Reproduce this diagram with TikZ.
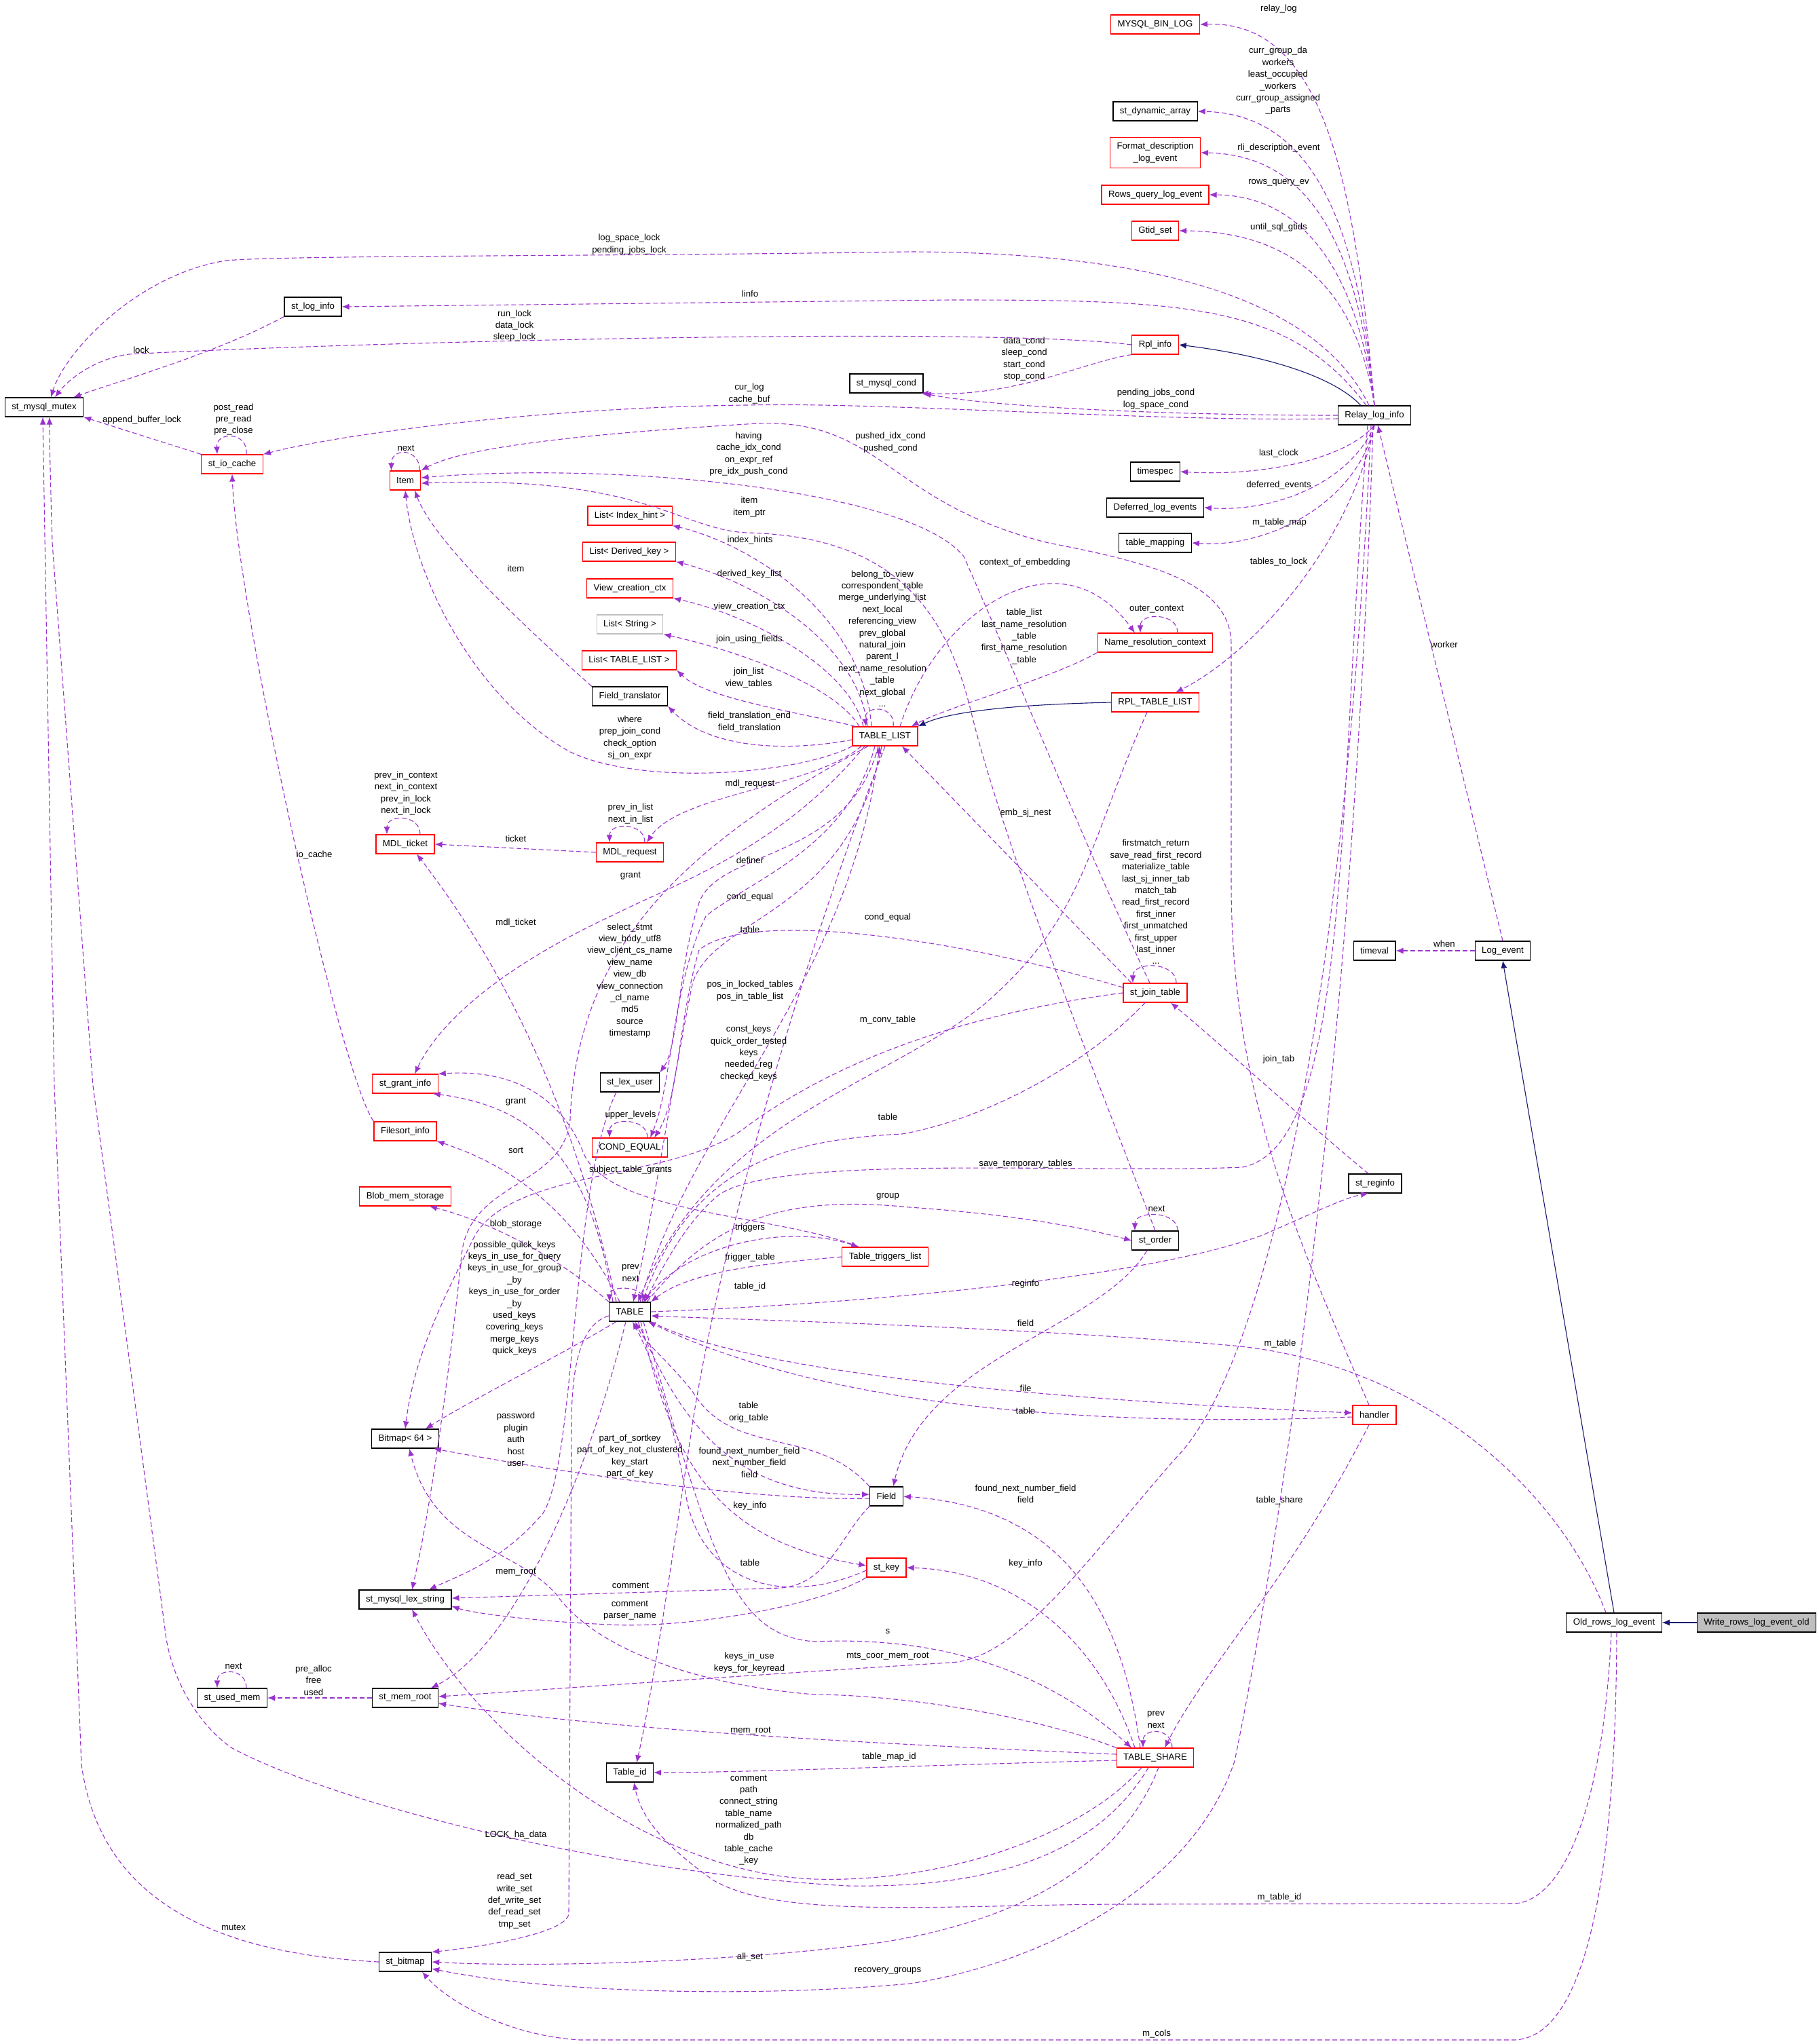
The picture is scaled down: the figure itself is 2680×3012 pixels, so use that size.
\documentclass[tikz,border=0pt]{standalone}
\usepackage{fontspec}
\setmainfont{Liberation Sans}
\usepackage{xcolor}
\usepackage{tikz}
\usetikzlibrary{arrows.meta}

\definecolor{membc}{HTML}{9A32CD}
\definecolor{isac}{HTML}{191970}
\definecolor{greyline}{HTML}{BFBFBF}
\newcommand{\graphfont}{\fontsize{13.2}{17.4}\selectfont}

\begin{document}
\begin{tikzpicture}[>={Latex[length=11pt,width=9pt]}, x=1pt, y=-1pt,
    cls/.style={draw=black, fill=white, line width=1.2pt, inner xsep=10pt, inner ysep=3pt, minimum height=28pt, font=\graphfont},
    trunc/.style={cls, draw=red},
    memb/.style={draw=membc, line width=1.1pt, dash pattern=on 7pt off 4pt, ->},
    isa/.style={draw=isac, line width=1.1pt, ->},
    lbl/.style={font=\graphfont, align=center, inner sep=0pt}]
    \useasboundingbox (0,0) rectangle (2680,3012);

    % Các lớp
    \node[trunc] (binlog) at (1702,36) {MYSQL\_BIN\_LOG};
    \node[cls] (dynarr) at (1702,164) {st\_dynamic\_array};
    \node[trunc, align=center, minimum height=45pt] (fmtdesc) at (1702,225) {Format\_description\\\_log\_event};
    \node[trunc] (rowsq) at (1702,287) {Rows\_query\_log\_event};
    \node[trunc] (gtid) at (1702,340) {Gtid\_set};
    \node[cls] (loginfo) at (461,452) {st\_log\_info};
    \node[trunc] (rplinfo) at (1702,508) {Rpl\_info};
    \node[cls] (mysqlcond) at (1306,565) {st\_mysql\_cond};
    \node[cls] (mutex) at (65,600) {st\_mysql\_mutex};
    \node[cls] (relay) at (2025,612) {Relay\_log\_info};
    \node[trunc] (iocache) at (342,684) {st\_io\_cache};
    \node[cls] (timespec) at (1702,695) {timespec};
    \node[trunc] (item) at (597,708) {Item};
    \node[cls] (deferred) at (1702,748) {Deferred\_log\_events};
    \node[trunc] (idxhint) at (928,760) {List< Index\_hint >};
    \node[cls] (tmap) at (1702,800) {table\_mapping};
    \node[trunc] (derkey) at (927,813) {List< Derived\_key >};
    \node[trunc] (viewctx) at (928,867) {View\_creation\_ctx};
    \node[cls, draw=greyline] (liststr) at (928,920) {List< String >};
    \node[trunc] (namectx) at (1702,947) {Name\_resolution\_context};
    \node[trunc] (listtl) at (927,973) {List< TABLE\_LIST >};
    \node[cls] (fieldtr) at (928,1026) {Field\_translator};
    \node[trunc] (rpltl) at (1702,1035) {RPL\_TABLE\_LIST};
    \node[trunc] (tablelist) at (1304,1085) {TABLE\_LIST};
    \node[trunc] (mdlticket) at (597,1244) {MDL\_ticket};
    \node[trunc] (mdlreq) at (928,1256) {MDL\_request};
    \node[cls] (timeval) at (2025,1401) {timeval};
    \node[cls] (logevent) at (2214,1401) {Log\_event};
    \node[trunc] (jointab) at (1702,1463) {st\_join\_table};
    \node[cls] (lexuser) at (928,1595) {st\_lex\_user};
    \node[trunc] (grant) at (597,1597) {st\_grant\_info};
    \node[trunc] (filesort) at (597,1667) {Filesort\_info};
    \node[trunc] (condeq) at (928,1691) {COND\_EQUAL};
    \node[cls] (reginfo) at (2026,1744) {st\_reginfo};
    \node[trunc] (blob) at (597,1763) {Blob\_mem\_storage};
    \node[cls] (order) at (1702,1828) {st\_order};
    \node[trunc] (trig) at (1304,1852) {Table\_triggers\_list};
    \node[cls] (table) at (928,1933) {TABLE};
    \node[trunc] (handler) at (2025,2085) {handler};
    \node[cls] (bitmap64) at (597,2120) {Bitmap< 64 >};
    \node[cls] (field) at (1306,2205) {Field};
    \node[trunc] (stkey) at (1306,2310) {st\_key};
    \node[cls] (lexstr) at (597,2357) {st\_mysql\_lex\_string};
    \node[cls] (oldrows) at (2378,2391) {Old\_rows\_log\_event};
    \node[cls, fill=greyline] (writerows) at (2588,2391) {Write\_rows\_log\_event\_old};
    \node[cls] (usedmem) at (342,2502) {st\_used\_mem};
    \node[cls] (memroot) at (597,2502) {st\_mem\_root};
    \node[trunc] (tshare) at (1702,2590) {TABLE\_SHARE};
    \node[cls] (tableid) at (928,2612) {Table\_id};
    \node[cls] (bitmap) at (597,2891) {st\_bitmap};

    % Kế thừa
    \draw[isa] ([xshift=-20pt]relay.north) .. controls (1960,550) and (1850,522) .. (rplinfo.east);
    \draw[isa] (rpltl.west) .. controls (1500,1038) and (1400,1048) .. (tablelist.north east);
    \draw[isa] (oldrows.north) -- (logevent.south);
    \draw[isa] (writerows.west) -- (oldrows.east);

    % Relay_log_info
    \draw[memb] (relay.north) .. controls (1995,250) and (1945,30) .. (binlog.east);
    \draw[memb] (relay.north) .. controls (2000,320) and (1930,168) .. (dynarr.east);
    \draw[memb] (relay.north) .. controls (2000,360) and (1930,228) .. (fmtdesc.east);
    \draw[memb] (relay.north) .. controls (2000,400) and (1920,288) .. (rowsq.east);
    \draw[memb] (relay.north) .. controls (2000,440) and (1920,342) .. (gtid.east);
    \draw[memb] ([xshift=-8pt]relay.north) .. controls (1950,460) and (1750,372) .. (1340,371) .. controls (900,378) and (420,376) .. (333,384) .. controls (200,405) and (95,520) .. ([xshift=10pt]mutex.north);
    \draw[memb] ([xshift=-12pt]relay.north) .. controls (1900,448) and (1750,442) .. (1400,442) -- (loginfo.east);
    \draw[memb] (relay.west) .. controls (1700,612) and (1450,598) .. (mysqlcond.south east);
    \draw[memb] ([yshift=-5pt]relay.west) .. controls (1700,622) and (1300,592) .. (1100,597) .. controls (800,600) and (500,640) .. (iocache.north east);
    \draw[memb] (relay.south) .. controls (1980,680) and (1850,702) .. (timespec.east);
    \draw[memb] (relay.south) .. controls (1990,710) and (1880,755) .. (deferred.east);
    \draw[memb] (relay.south) .. controls (2000,740) and (1870,808) .. (tmap.east);
    \draw[memb] (relay.south) .. controls (1990,800) and (1850,960) .. ([xshift=-35pt]rpltl.north east);
    \draw[memb] ([xshift=-10pt]relay.south) .. controls (1970,1200) and (1990,1690) .. (1830,1720) .. controls (1600,1730) and (1150,1700) .. (1060,1760) .. controls (1010,1800) and (975,1870) .. ([xshift=22pt]table.north);
    \draw[memb] ([xshift=-5pt]relay.south) .. controls (1985,1400) and (1880,2000) .. (1731,2150) .. controls (1600,2300) and (1500,2445) .. (1400,2450) .. controls (1200,2462) and (800,2490) .. ([yshift=2pt]memroot.east);
    \draw[memb] ([xshift=-2pt]relay.south) .. controls (1995,1500) and (1900,2200) .. (1819,2595) .. controls (1750,2800) and (1500,2900) .. (1340,2923) .. controls (1100,2945) and (800,2935) .. ([yshift=-10pt]bitmap.east);
    \draw[memb] (logevent.north) -- ([xshift=5pt]relay.south);
    \draw[memb] (logevent.west) -- (timeval.east);

    % Old_rows_log_event
    \draw[memb] ([xshift=-12pt]oldrows.north) .. controls (2300,2200) and (2100,2010) .. (1818,1983) .. controls (1500,1955) and (1100,1945) .. ([yshift=-6pt]table.east);
    \draw[memb] ([xshift=-4pt]oldrows.south) .. controls (2360,2700) and (2290,2805) .. (2229,2805) -- (1665,2806) .. controls (1400,2806) and (1150,2830) .. (1050,2770) .. controls (980,2720) and (945,2680) .. ([xshift=6pt]tableid.south);
    \draw[memb] ([xshift=4pt]oldrows.south) .. controls (2380,2900) and (2300,3006) .. (2229,3006) -- (855,3006) .. controls (750,3000) and (660,2950) .. ([xshift=25pt]bitmap.south);

    % Rpl_info, st_log_info, st_io_cache, Item
    \draw[memb] (rplinfo.west) .. controls (1450,480) and (500,505) .. (190,522) .. controls (140,528) and (100,560) .. ([xshift=16pt]mutex.north);
    \draw[memb] (rplinfo.south west) .. controls (1590,535) and (1500,585) .. ([xshift=-4pt]mysqlcond.south east);
    \draw[memb] (loginfo.south west) .. controls (320,520) and (180,560) .. ([xshift=-15pt]mutex.north east);
    \draw[memb] (iocache.north west) -- (mutex.south east);
    \draw[memb] ([xshift=21pt]iocache.north) .. controls +(3,-34) and +(-2,-34) .. ([xshift=-22pt]iocache.north);
    \draw[memb] (filesort.north west) .. controls (500,1580) and (350,900) .. (iocache.south);
    \draw[memb] ([xshift=-2pt]item.north east) .. controls +(0,-34) and +(0,-34) .. ([xshift=3pt]item.north west);
    \draw[memb] (fieldtr.north west) .. controls (780,930) and (640,800) .. ([xshift=14pt]item.south);
    \draw[memb] (bitmap.west) .. controls (350,2880) and (150,2820) .. (120,2600) -- (80,1600) -- ([xshift=-2pt]mutex.south);

    % TABLE_LIST
    \draw[memb] (tablelist.south west) .. controls (1180,1140) and (950,1160) .. (840,1108) .. controls (700,1030) and (610,850) .. (item.south);
    \draw[memb] ([xshift=-20pt]tablelist.north) .. controls (1270,900) and (1100,800) .. (idxhint.south east);
    \draw[memb] ([xshift=-26pt]tablelist.north) .. controls (1265,950) and (1120,860) .. (derkey.south east);
    \draw[memb] ([xshift=-32pt]tablelist.north) .. controls (1250,980) and (1100,905) .. (viewctx.south east);
    \draw[memb] ([xshift=-38pt]tablelist.north) .. controls (1230,1010) and (1090,960) .. (liststr.south east);
    \draw[memb] ([xshift=-44pt]tablelist.north) .. controls (1180,1050) and (1040,1030) .. (listtl.south east);
    \draw[memb] ([yshift=-5pt]tablelist.west) .. controls (1150,1110) and (1040,1100) .. (fieldtr.south east);
    \draw[memb] ([xshift=12pt]tablelist.north) .. controls +(4,-32) and +(-4,-32) .. ([xshift=-28pt]tablelist.north);
    \draw[memb] ([xshift=22pt]tablelist.north) .. controls (1380,900) and (1560,780) .. ([xshift=-30pt]namectx.north);
    \draw[memb] (namectx.south west) .. controls (1550,1000) and (1400,1040) .. ([xshift=-10pt]tablelist.north east);
    \draw[memb] ([xshift=33pt]namectx.north) .. controls +(0,-30) and +(0,-30) .. ([xshift=-22pt]namectx.north);
    \draw[memb] ([xshift=-12pt]rpltl.south) .. controls (1600,1250) and (1600,1350) .. (1450,1480) .. controls (1300,1600) and (1050,1650) .. ([xshift=12pt]table.north);
    \draw[memb] ([xshift=-35pt]jointab.north) -- ([xshift=25pt]tablelist.south);
    \draw[memb] ([xshift=31pt]jointab.north) .. controls +(0,-32) and +(0,-32) .. ([xshift=-33pt]jointab.north);
    \draw[memb] ([xshift=-8pt]jointab.north) .. controls (1600,1250) and (1500,1000) .. (1420,820) .. controls (1340,720) and (900,680) .. ([yshift=4pt]item.east);
    \draw[memb] ([xshift=-8pt]handler.north) .. controls (1900,1800) and (1814,1600) .. (1814,1300) -- (1814,950) .. controls (1814,860) and (1700,830) .. (1545,800) .. controls (1300,740) and (1300,610) .. (1100,625) .. controls (850,640) and (680,660) .. (item.north east);
    \draw[memb] (order.north) .. controls (1620,1600) and (1480,1250) .. (1431,1050) .. controls (1390,880) and (1300,790) .. (1100,785) .. controls (1000,780) and (950,700) .. ([yshift=-4pt]item.east);
    \draw[memb] ([yshift=8pt]jointab.west) .. controls (1400,1380) and (1100,1340) .. (1030,1400) .. controls (1000,1500) and (1000,1620) .. ([xshift=-20pt]condeq.north east);
    \draw[memb] ([xshift=-15pt]tablelist.south) .. controls (1250,1250) and (1100,1300) .. (1040,1350) .. controls (990,1450) and (990,1600) .. ([xshift=-26pt]condeq.north east);
    \draw[memb] ([xshift=26pt]condeq.north) .. controls +(0,-30) and +(0,-30) .. ([xshift=-30pt]condeq.north);
    \draw[memb] ([xshift=-35pt]tablelist.south) .. controls (1200,1160) and (1000,1170) .. ([xshift=25pt]mdlreq.north);
    \draw[memb] ([xshift=22pt]mdlreq.north) .. controls +(0,-30) and +(0,-30) .. ([xshift=-30pt]mdlreq.north);
    \draw[memb] (mdlreq.west) -- (mdlticket.east);
    \draw[memb] ([xshift=22pt]mdlticket.north) .. controls +(0,-30) and +(0,-30) .. ([xshift=-27pt]mdlticket.north);
    \draw[memb] ([xshift=-30pt]tablelist.south) .. controls (1150,1250) and (1000,1300) .. (900,1350) .. controls (750,1420) and (650,1500) .. ([xshift=14pt]grant.north);
    \draw[memb] ([xshift=-10pt]tablelist.south) .. controls (1250,1270) and (1060,1250) .. (1030,1330) .. controls (1000,1420) and (1000,1540) .. (lexuser.north east);
    \draw[memb] ([xshift=-5pt]tablelist.south) .. controls (1250,1350) and (1050,1350) .. (1020,1450) .. controls (990,1600) and (960,1800) .. ([xshift=5pt]table.north);
    \draw[memb] ([xshift=-25pt]tablelist.south) .. controls (1000,1250) and (850,1400) .. (840,1650) .. controls (830,1750) and (690,1740) .. (680,1850) .. controls (670,1950) and (640,2200) .. ([xshift=10pt]lexstr.north);
    \draw[memb] (tablelist.south) .. controls (1150,1500) and (1050,1900) .. (1020,2100) .. controls (990,2300) and (960,2500) .. ([xshift=10pt]tableid.north);
    \draw[memb] (jointab.west) .. controls (1450,1490) and (1250,1550) .. (1100,1660) .. controls (1000,1740) and (760,1720) .. (700,1820) .. controls (650,1920) and (610,2000) .. (bitmap64.north);
    \draw[memb] ([xshift=-15pt]jointab.south) .. controls (1600,1570) and (1450,1650) .. (1329,1671) .. controls (1150,1680) and (1020,1720) .. ([xshift=18pt]table.north);
    \draw[memb] ([xshift=-10pt]reginfo.north) .. controls (1920,1650) and (1800,1540) .. ([xshift=23pt]jointab.south);
    \draw[memb] ([xshift=-12pt]order.south) .. controls (1620,1960) and (1360,2000) .. ([xshift=10pt]field.north);
    \draw[memb] ([xshift=33pt]order.north) .. controls +(0,-30) and +(0,-30) .. ([xshift=-30pt]order.north);

    % TABLE
    \draw[memb] ([xshift=22pt]table.north) .. controls +(0,-25) and +(0,-25) .. ([xshift=-30pt]table.north);
    \draw[memb] ([xshift=15pt]table.north) .. controls (1020,1650) and (1250,1450) .. ([xshift=-8pt]tablelist.south);
    \draw[memb] ([xshift=-20pt]table.north) .. controls (870,1750) and (800,1500) .. ([xshift=17pt]mdlticket.south);
    \draw[memb] ([xshift=-25pt]table.north) .. controls (870,1700) and (780,1630) .. ([xshift=-8pt]grant.south east);
    \draw[memb] ([xshift=25pt]trig.north west) .. controls (1150,1790) and (900,1790) .. (860,1700) .. controls (830,1620) and (760,1575) .. (grant.north east);
    \draw[memb] (table.north west) .. controls (820,1850) and (720,1800) .. ([xshift=-32pt]blob.south east);
    \draw[memb] ([xshift=-15pt]table.north) .. controls (850,1790) and (760,1720) .. (filesort.south east);
    \draw[memb] ([xshift=20pt]table.north) .. controls (1000,1840) and (1150,1800) .. ([xshift=25pt]trig.north west);
    \draw[memb] (trig.west) .. controls (1150,1860) and (1020,1870) .. (table.north east);
    \draw[memb] ([xshift=25pt]table.north) .. controls (1050,1800) and (1150,1760) .. (1340,1779) .. controls (1500,1790) and (1600,1810) .. (order.west);
    \draw[memb] (table.east) .. controls (1300,1920) and (1700,1880) .. (1860,1820) .. controls (1930,1790) and (1980,1765) .. ([xshift=-10pt]reginfo.south);
    \draw[memb] (table.south east) .. controls (1100,2020) and (1500,2060) .. ([yshift=3pt]handler.west);
    \draw[memb] ([yshift=-3pt]handler.west) .. controls (1700,2100) and (1250,2090) .. ([xshift=-4pt]table.south east);
    \draw[memb] ([xshift=-8pt]handler.south) .. controls (1900,2330) and (1780,2450) .. ([xshift=14pt]tshare.north);
    \draw[memb] ([xshift=-20pt]table.south) .. controls (820,2000) and (700,2060) .. ([xshift=30pt]bitmap64.north);
    \draw[memb] ([yshift=-3pt]field.west) .. controls (1100,2212) and (800,2165) .. ([xshift=-8pt]bitmap64.south east);
    \draw[memb] ([xshift=12pt]table.south) .. controls (1010,2120) and (1100,2205) .. ([yshift=3pt]field.west);
    \draw[memb] (field.north west) .. controls (1200,2100) and (1080,2150) .. (1020,2050) .. controls (980,2000) and (950,1980) .. ([xshift=8pt]table.south);
    \draw[memb] ([xshift=16pt]table.south) .. controls (990,2150) and (1050,2270) .. ([yshift=3pt]stkey.west);
    \draw[memb] ([yshift=-4pt]stkey.west) .. controls (1150,2370) and (1030,2330) .. (1010,2200) .. controls (990,2080) and (960,2000) .. ([xshift=4pt]table.south);
    \draw[memb] (field.south west) .. controls (1240,2260) and (1220,2335) .. (1150,2340) -- ([yshift=2pt]lexstr.east);
    \draw[memb] (stkey.south west) .. controls (1200,2370) and (1000,2400) .. (900,2394) .. controls (800,2390) and (700,2378) .. ([yshift=-10pt]lexstr.east);
    \draw[memb] ([xshift=-20pt]lexuser.south) .. controls (840,1750) and (850,2150) .. (800,2230) .. controls (740,2300) and (680,2320) .. ([xshift=35pt]lexstr.north);
    \draw[memb] ([xshift=20pt]table.south) .. controls (1050,2300) and (1080,2410) .. (1200,2419) .. controls (1400,2410) and (1550,2470) .. ([xshift=-35pt]tshare.north);
    \draw[memb] ([xshift=-6pt]table.south) .. controls (860,2200) and (750,2430) .. ([xshift=38pt]memroot.north);
    \draw[memb] ([yshift=-6pt]table.west) .. controls (860,1950) and (842,2000) .. (842,2100) -- (838,2820) .. controls (835,2850) and (700,2870) .. (bitmap.north east);

    % TABLE_SHARE
    \draw[memb] ([xshift=25pt]tshare.north) .. controls +(0,-30) and +(0,-30) .. ([xshift=-18pt]tshare.north);
    \draw[memb] ([xshift=-22pt]tshare.north) .. controls (1650,2350) and (1550,2220) .. (field.east);
    \draw[memb] ([xshift=-30pt]tshare.north) .. controls (1620,2420) and (1500,2315) .. (stkey.east);
    \draw[memb] (tshare.north west) .. controls (1500,2520) and (1300,2497) .. (1200,2497) .. controls (1000,2480) and (870,2420) .. (820,2350) .. controls (760,2280) and (640,2280) .. ([xshift=6pt]bitmap64.south);
    \draw[memb] ([yshift=5pt]tshare.west) .. controls (1300,2570) and (900,2550) .. ([yshift=-8pt]memroot.east);
    \draw[memb] ([yshift=-4pt]tshare.west) .. controls (1400,2600) and (1100,2612) .. (tableid.east);
    \draw[memb] ([xshift=-20pt]tshare.south) .. controls (1600,2700) and (1400,2775) .. (1200,2769) .. controls (950,2760) and (700,2550) .. ([xshift=10pt]lexstr.south);
    \draw[memb] ([xshift=-10pt]tshare.south) .. controls (1600,2760) and (1400,2781) .. (1250,2779) .. controls (900,2760) and (500,2660) .. (342,2576) .. controls (290,2540) and (250,2470) .. (243,2400) -- (137,1600) -- (77,800) .. controls (74,700) and (73,650) .. ([xshift=8pt]mutex.south);
    \draw[memb] ([xshift=5pt]tshare.south) .. controls (1650,2750) and (1500,2830) .. (1300,2862) .. controls (1100,2890) and (800,2900) .. (bitmap.east);

    % st_mem_root, st_used_mem
    \draw[memb] (memroot.west) -- (usedmem.east);
    \draw[memb] ([xshift=21pt]usedmem.north) .. controls +(0,-30) and +(0,-30) .. ([xshift=-22pt]usedmem.north);

    % Nhãn
    \node[lbl] (l01) at (1884,13) {relay\_log};
    \node[lbl] (l02) at (1883,119) {curr\_group\_da\\workers\\least\_occupied\\\_workers\\curr\_group\_assigned\\\_parts};
    \node[lbl] (l03) at (1884,218) {rli\_description\_event};
    \node[lbl] (l04) at (1884,269) {rows\_query\_ev};
    \node[lbl] (l05) at (1884,335) {until\_sql\_gtids};
    \node[lbl] (l06) at (927,360) {log\_space\_lock\\pending\_jobs\_lock};
    \node[lbl] (l07) at (1105,433) {linfo};
    \node[lbl] (l08) at (758,480) {run\_lock\\data\_lock\\sleep\_lock};
    \node[lbl] (l09) at (208,516) {lock};
    \node[lbl] (l10) at (1509,529) {data\_cond\\sleep\_cond\\start\_cond\\stop\_cond};
    \node[lbl] (l11) at (1104,580) {cur\_log\\cache\_buf};
    \node[lbl] (l12) at (1703,588) {pending\_jobs\_cond\\log\_space\_cond};
    \node[lbl] (l13) at (344,618) {post\_read\\pre\_read\\pre\_close};
    \node[lbl] (l14) at (209,619) {append\_buffer\_lock};
    \node[lbl] (l15) at (1312,652) {pushed\_idx\_cond\\pushed\_cond};
    \node[lbl] (l16) at (598,660) {next};
    \node[lbl] (l17) at (1103,669) {having\\cache\_idx\_cond\\on\_expr\_ref\\pre\_idx\_push\_cond};
    \node[lbl] (l18) at (1884,668) {last\_clock};
    \node[lbl] (l19) at (1884,715) {deferred\_events};
    \node[lbl] (l20) at (1104,747) {item\\item\_ptr};
    \node[lbl] (l21) at (1885,770) {m\_table\_map};
    \node[lbl] (l22) at (1105,796) {index\_hints};
    \node[lbl] (l23) at (1510,829) {context\_of\_embedding};
    \node[lbl] (l24) at (1884,828) {tables\_to\_lock};
    \node[lbl] (l25) at (760,838) {item};
    \node[lbl] (l26) at (1104,846) {derived\_key\_list};
    \node[lbl] (l27) at (1300,941) {belong\_to\_view\\correspondent\_table\\merge\_underlying\_list\\next\_local\\referencing\_view\\prev\_global\\natural\_join\\parent\_l\\next\_name\_resolution\\\_table\\next\_global\\...};
    \node[lbl] (l28) at (1104,894) {view\_creation\_ctx};
    \node[lbl] (l29) at (1704,898) {outer\_context};
    \node[lbl] (l30) at (1509,938) {table\_list\\last\_name\_resolution\\\_table\\first\_name\_resolution\\\_table};
    \node[lbl] (l31) at (1104,942) {join\_using\_fields};
    \node[lbl] (l32) at (2128,950) {worker};
    \node[lbl] (l33) at (1103,999) {join\_list\\view\_tables};
    \node[lbl] (l34) at (1104,1064) {field\_translation\_end\\field\_translation};
    \node[lbl] (l35) at (928,1087) {where\\prep\_join\_cond\\check\_option\\sj\_on\_expr};
    \node[lbl] (l36) at (1105,1155) {mdl\_request};
    \node[lbl] (l37) at (598,1169) {prev\_in\_context\\next\_in\_context\\prev\_in\_lock\\next\_in\_lock};
    \node[lbl] (l38) at (929,1199) {prev\_in\_list\\next\_in\_list};
    \node[lbl] (l39) at (1511,1198) {emb\_sj\_nest};
    \node[lbl] (l40) at (760,1236) {ticket};
    \node[lbl] (l41) at (463,1260) {io\_cache};
    \node[lbl] (l42) at (1105,1268) {definer};
    \node[lbl] (l43) at (929,1291) {grant};
    \node[lbl] (l44) at (1105,1322) {cond\_equal};
    \node[lbl] (l45) at (1703,1329) {firstmatch\_return\\save\_read\_first\_record\\materialize\_table\\last\_sj\_inner\_tab\\match\_tab\\read\_first\_record\\first\_inner\\first\_unmatched\\first\_upper\\last\_inner\\...};
    \node[lbl] (l46) at (1308,1352) {cond\_equal};
    \node[lbl] (l47) at (760,1360) {mdl\_ticket};
    \node[lbl] (l48) at (1105,1370) {table};
    \node[lbl] (l49) at (2128,1391) {when};
    \node[lbl] (l50) at (928,1445) {select\_stmt\\view\_body\_utf8\\view\_client\_cs\_name\\view\_name\\view\_db\\view\_connection\\\_cl\_name\\md5\\source\\timestamp};
    \node[lbl] (l51) at (1105,1460) {pos\_in\_locked\_tables\\pos\_in\_table\_list};
    \node[lbl] (l52) at (1308,1503) {m\_conv\_table};
    \node[lbl] (l53) at (1103,1552) {const\_keys\\quick\_order\_tested\\keys\\needed\_reg\\checked\_keys};
    \node[lbl] (l54) at (1884,1561) {join\_tab};
    \node[lbl] (l55) at (760,1624) {grant};
    \node[lbl] (l56) at (929,1643) {upper\_levels};
    \node[lbl] (l57) at (1308,1646) {table};
    \node[lbl] (l58) at (760,1695) {sort};
    \node[lbl] (l59) at (1511,1715) {save\_temporary\_tables};
    \node[lbl] (l60) at (929,1724) {subject\_table\_grants};
    \node[lbl] (l61) at (1308,1763) {group};
    \node[lbl] (l62) at (1704,1781) {next};
    \node[lbl] (l63) at (760,1804) {blob\_storage};
    \node[lbl] (l64) at (1105,1809) {triggers};
    \node[lbl] (l65) at (1105,1853) {trigger\_table};
    \node[lbl] (l66) at (929,1876) {prev\\next};
    \node[lbl] (l67) at (1511,1892) {reginfo};
    \node[lbl] (l68) at (1105,1896) {table\_id};
    \node[lbl] (l69) at (758,1913) {possible\_quick\_keys\\keys\_in\_use\_for\_query\\keys\_in\_use\_for\_group\\\_by\\keys\_in\_use\_for\_order\\\_by\\used\_keys\\covering\_keys\\merge\_keys\\quick\_keys};
    \node[lbl] (l70) at (1511,1950) {field};
    \node[lbl] (l71) at (1886,1980) {m\_table};
    \node[lbl] (l72) at (1511,2046) {file};
    \node[lbl] (l73) at (1511,2079) {table};
    \node[lbl] (l74) at (1103,2081) {table\\orig\_table};
    \node[lbl] (l75) at (760,2121) {password\\plugin\\auth\\host\\user};
    \node[lbl] (l76) at (928,2146) {part\_of\_sortkey\\part\_of\_key\_not\_clustered\\key\_start\\part\_of\_key};
    \node[lbl] (l77) at (1104,2155) {found\_next\_number\_field\\next\_number\_field\\field};
    \node[lbl] (l78) at (1511,2201) {found\_next\_number\_field\\field};
    \node[lbl] (l79) at (1885,2211) {table\_share};
    \node[lbl] (l80) at (1105,2219) {key\_info};
    \node[lbl] (l81) at (1105,2303) {table};
    \node[lbl] (l82) at (1511,2304) {key\_info};
    \node[lbl] (l83) at (760,2317) {mem\_root};
    \node[lbl] (l84) at (929,2336) {comment};
    \node[lbl] (l85) at (928,2373) {comment\\parser\_name};
    \node[lbl] (l86) at (1308,2404) {s};
    \node[lbl] (l87) at (1308,2441) {mts\_coor\_mem\_root};
    \node[lbl] (l88) at (1104,2450) {keys\_in\_use\\keys\_for\_keyread};
    \node[lbl] (l89) at (344,2455) {next};
    \node[lbl] (l90) at (462,2476) {pre\_alloc\\free\\used};
    \node[lbl] (l91) at (1703,2534) {prev\\next};
    \node[lbl] (l92) at (1106,2551) {mem\_root};
    \node[lbl] (l93) at (1310,2589) {table\_map\_id};
    \node[lbl] (l94) at (1103,2682) {comment\\path\\connect\_string\\table\_name\\normalized\_path\\db\\table\_cache\\\_key};
    \node[lbl] (l95) at (760,2704) {LOCK\_ha\_data};
    \node[lbl] (l96) at (1885,2796) {m\_table\_id};
    \node[lbl] (l97) at (758,2801) {read\_set\\write\_set\\def\_write\_set\\def\_read\_set\\tmp\_set};
    \node[lbl] (l98) at (344,2840) {mutex};
    \node[lbl] (l99) at (1105,2884) {all\_set};
    \node[lbl] (l100) at (1308,2904) {recovery\_groups};
    \node[lbl] (l101) at (1704,2997) {m\_cols};
\end{tikzpicture}
\end{document}
